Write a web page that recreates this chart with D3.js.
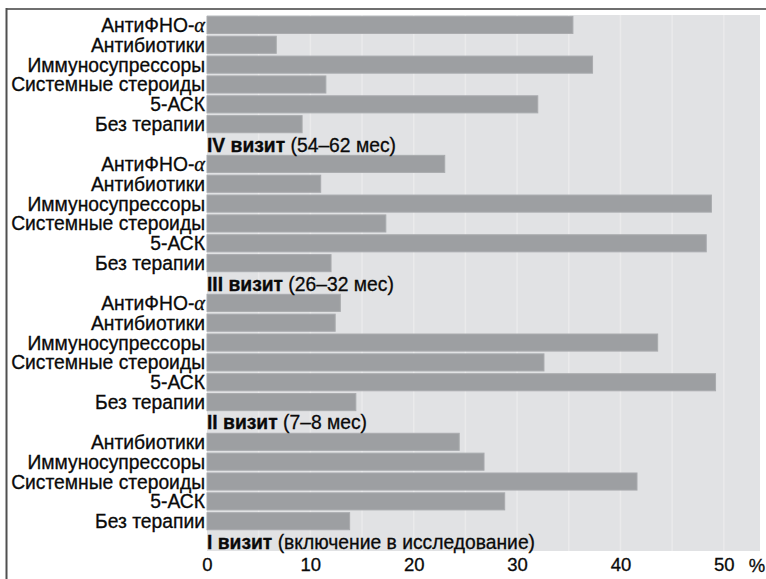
<!DOCTYPE html>
<html>
<head>
<meta charset="utf-8">
<script src="https://cdn.jsdelivr.net/npm/d3@7"></script>
<style>
  html, body { margin: 0; padding: 0; background: #fff; }
  svg { display: block; }
  text { font-family: "Liberation Sans", Arial, sans-serif; fill: #0a0a0a; stroke: #0a0a0a; stroke-width: 0.3px; }
</style>
</head>
<body>
<svg id="chart" width="766" height="579"></svg>
<script>
// ---- data ----
const categories = ["АнтиФНО-α", "Антибиотики", "Иммуносупрессоры", "Системные стероиды", "5-АСК", "Без терапии"];
const visitTitles = ["IV визит", "III визит", "II визит", "I визит"];
const visitNotes = ["(54–62 мес)", "(26–32 мес)", "(7–8 мес)", "(включение в исследование)"];
const visitIV  = [35.4, 6.7, 37.3, 11.5, 32.0, 9.2];
const visitIII = [23.0, 11.0, 48.8, 17.3, 48.3, 12.0];
const visitII  = [12.9, 12.4, 43.6, 32.6, 49.2, 14.4];
const visitI   = [null, 24.4, 26.8, 41.6, 28.8, 13.8]; // no АнтиФНО-α at visit I
const tickValues = [0, 10, 20, 30, 40, 50];
const gridValues = [5, 10, 15, 20, 25, 30, 35, 40, 45, 50];
const axisUnit = "%";

// ---- build rows ----
const visitValues = [visitIV, visitIII, visitII, visitI];
const rows = [];
visitValues.forEach((vals, vi) => {
  vals.forEach((v, ci) => {
    if (v !== null) rows.push({ id: "b" + vi + "_" + ci, type: "bar", label: categories[ci], value: v });
  });
  rows.push({ id: "h" + vi, type: "header", title: visitTitles[vi], note: visitNotes[vi] });
});

const svg = d3.select("#chart");
const plotLeft = 207, plotRight = 760, plotTop = 15, plotBottom = 551;

const x = d3.scaleLinear().domain([0, 53.5]).range([plotLeft, plotRight]);
const y = d3.scaleBand().domain(rows.map(r => r.id)).range([plotTop, plotBottom])
  .paddingInner(0.14).paddingOuter(0.07);

// frame lines
svg.append("line").attr("x1", 6).attr("x2", 766).attr("y1", 9).attr("y2", 9)
  .attr("stroke", "#6f6f6f").attr("stroke-width", 2);
svg.append("line").attr("x1", 6.5).attr("x2", 6.5).attr("y1", 8).attr("y2", 579)
  .attr("stroke", "#505050").attr("stroke-width", 2);

// plot background
svg.append("rect").attr("x", plotLeft).attr("y", plotTop)
  .attr("width", plotRight - plotLeft).attr("height", plotBottom - plotTop)
  .attr("fill", "#e1e2e4");

// grid
svg.append("g").selectAll("line").data(gridValues).join("line")
  .attr("x1", d => x(d)).attr("x2", d => x(d))
  .attr("y1", plotTop).attr("y2", plotBottom)
  .attr("stroke", "#eaeaeb").attr("stroke-width", 1.5);

// bars
const barRows = rows.filter(r => r.type === "bar");
svg.append("g").selectAll("rect").data(barRows).join("rect")
  .attr("x", x(0)).attr("y", d => y(d.id))
  .attr("width", d => x(d.value) - x(0)).attr("height", y.bandwidth())
  .attr("fill", "#9d9fa2").attr("stroke", "#a9abae").attr("stroke-width", 1);

const fs = 19.3;

// category labels
svg.append("g").selectAll("text").data(barRows).join("text")
  .attr("x", plotLeft - 2).attr("y", d => y(d.id) + y.bandwidth() / 2 + 7)
  .attr("text-anchor", "end").attr("font-size", fs)
  .each(function(d) {
    const t = d3.select(this);
    if (d.label.endsWith("α")) {
      t.append("tspan").text(d.label.slice(0, -1));
      t.append("tspan").attr("font-family", "'Liberation Serif', 'DejaVu Serif', serif")
        .attr("font-style", "italic").attr("font-size", fs + 1).text("α");
    } else {
      t.text(d.label);
    }
  });

// visit headers
const headRows = rows.filter(r => r.type === "header");
const ht = svg.append("g").selectAll("text").data(headRows).join("text")
  .attr("x", plotLeft).attr("y", d => y(d.id) + y.bandwidth() / 2 + 7.5)
  .attr("font-size", fs);
ht.append("tspan").attr("font-weight", "bold").text(d => d.title);
ht.append("tspan").text(d => " " + d.note);

// x axis tick labels
const ax = svg.append("g").attr("transform", `translate(0,${plotBottom})`)
  .call(d3.axisBottom(x).tickValues(tickValues).tickSize(0).tickPadding(7).tickFormat(d3.format("d")));
ax.select(".domain").remove();
ax.selectAll("text").attr("font-size", 18.5).attr("fill", "#0a0a0a")
  .attr("font-family", "'Liberation Sans', Arial, sans-serif");

svg.append("text").attr("x", 757).attr("y", 571.5).attr("text-anchor", "middle")
  .attr("font-size", 18.5).text(axisUnit);
</script>
</body>
</html>
